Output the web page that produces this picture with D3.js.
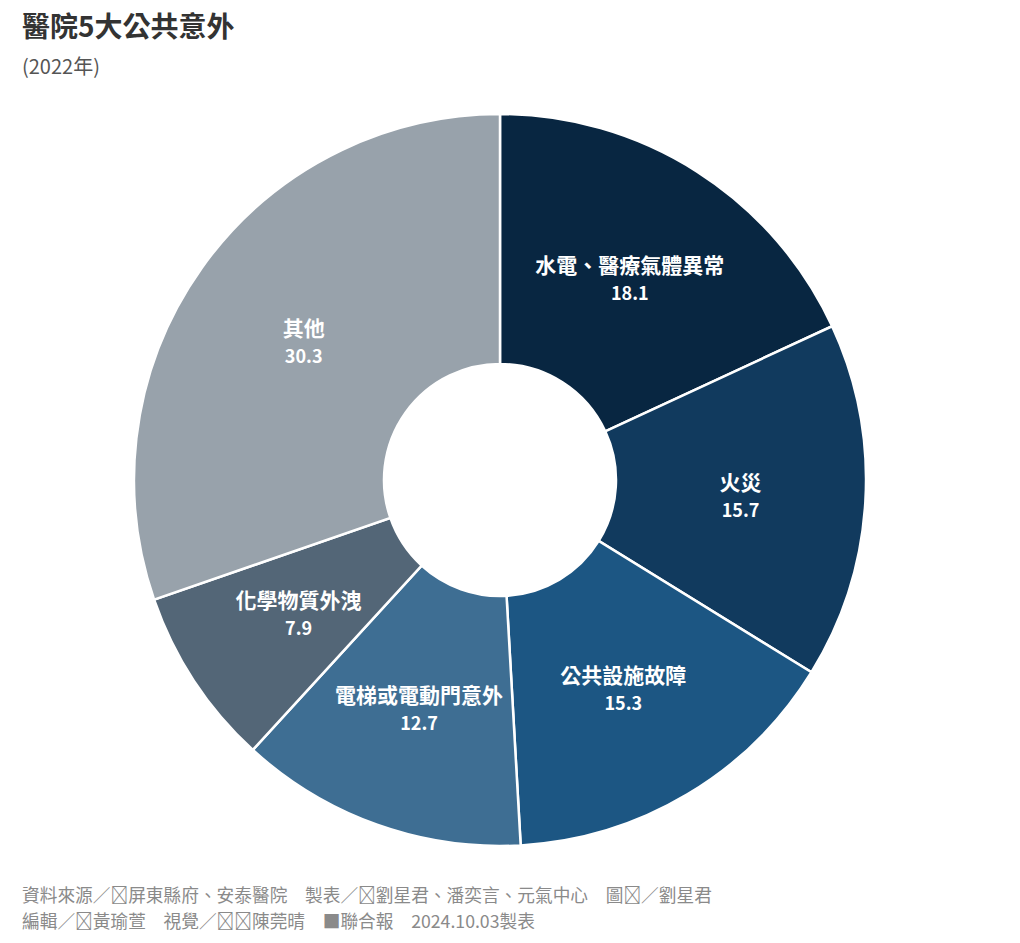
<!DOCTYPE html>
<html>
<head>
<meta charset="utf-8">
<script src="https://cdn.jsdelivr.net/npm/d3@7"></script>
<style>
  body { margin: 0; background: #fff; font-family: "Noto Sans CJK TC", "Noto Sans", sans-serif; }
</style>
</head>
<body>
<div id="chart"></div>
<script>
const categories = ['水電、醫療氣體異常', '火災', '公共設施故障', '電梯或電動門意外', '化學物質外洩', '其他'];
const values = [18.1, 15.7, 15.3, 12.7, 7.9, 30.3];
const colors = ['#082641', '#113a5e', '#1c5683', '#3e6e93', '#536677', '#98a2ab'];

const footerLines = [
    '資料來源／\uE000屏東縣府、安泰醫院　製表／\uE000劉星君、潘奕言、元氣中心　圖\uE000／劉星君',
    '編輯／\uE000黃瑜萱　視覺／\uE000\uE000陳莞晴　■聯合報　2024.10.03製表'
];

const width = 1020;
const height = 943;
const cx = 500, cy = 480;
const outerR = 366, innerR = 116;

const svg = d3.select('#chart')
    .append('svg')
    .attr('width', width)
    .attr('height', height);

// Title
svg.append('text')
    .attr('x', 22).attr('y', 37)
    .attr('font-size', 28).attr('font-weight', 700)
    .attr('fill', '#333')
    .text('醫院5大公共意外');

svg.append('text')
    .attr('x', 22).attr('y', 74)
    .attr('font-size', 20)
    .attr('fill', '#555')
    .text('(2022年)');

const data = categories.map((c, i) => ({ name: c, value: values[i], color: colors[i] }));

const pie = d3.pie()
    .value((d) => d.value)
    .sort(null);

const arc = d3.arc()
    .innerRadius(innerR)
    .outerRadius(outerR);

const g = svg.append('g')
    .attr('transform', 'translate(' + cx + ',' + cy + ')');

const arcs = pie(data);

g.selectAll('path')
    .data(arcs)
    .enter()
    .append('path')
    .attr('d', arc)
    .attr('fill', (d) => d.data.color)
    .attr('stroke', '#fff')
    .attr('stroke-width', 2.5);

// Labels: name + value in one text block
const labels = g.selectAll('.label')
    .data(arcs)
    .enter()
    .append('text')
    .attr('class', 'label')
    .attr('text-anchor', 'middle')
    .attr('font-weight', 700)
    .attr('fill', '#fff')
    .attr('transform', (d) => 'translate(' + arc.centroid(d) + ')');

labels.append('tspan')
    .attr('x', 0)
    .attr('y', -4)
    .attr('font-size', 21)
    .text((d) => d.data.name);

labels.append('tspan')
    .attr('x', 0)
    .attr('y', 23)
    .attr('font-size', 18)
    .text((d) => d.data.value.toFixed(1));

// Footer
svg.append('text')
    .attr('font-size', 17.7)
    .attr('fill', '#8a8a8a')
    .selectAll('tspan')
    .data(footerLines)
    .enter()
    .append('tspan')
    .attr('x', 22)
    .attr('y', (d, i) => 902 + i * 26)
    .text((d) => d);
</script>
</body>
</html>
